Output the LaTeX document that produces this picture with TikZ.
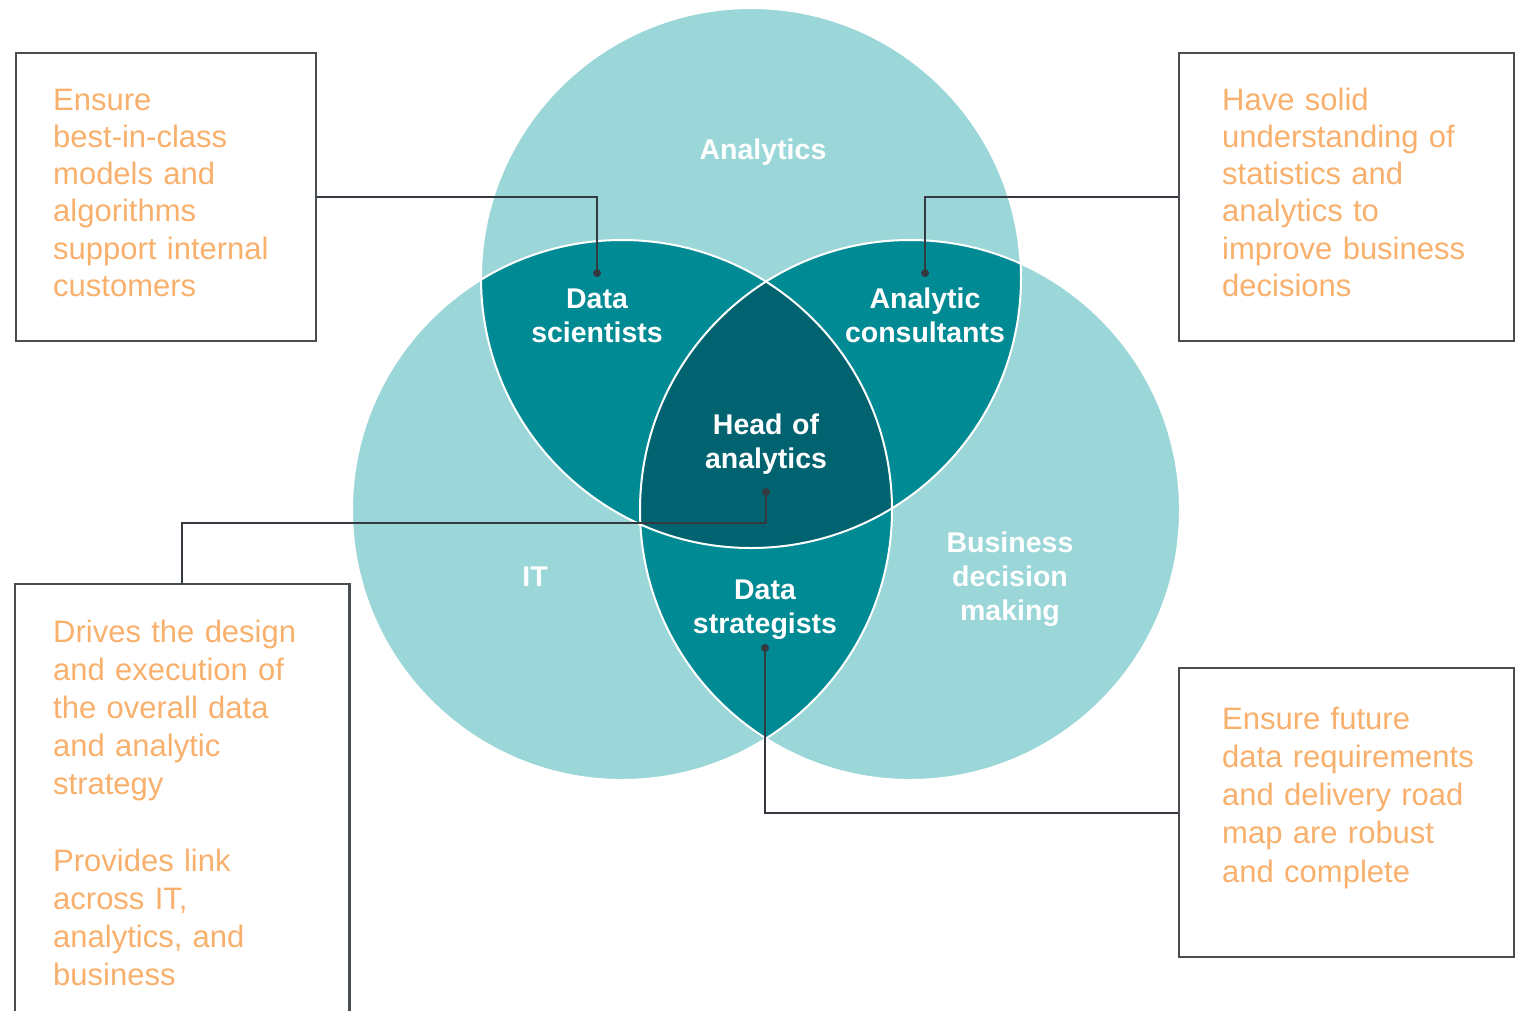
\documentclass[tikz,border=0pt]{standalone}
\usepackage{fontspec}
\setmainfont{Liberation Sans}
\usetikzlibrary{positioning}

\definecolor{paleteal}{RGB}{155,214,216}
\definecolor{midteal}{RGB}{0,138,148}
\definecolor{deepteal}{RGB}{0,99,111}
\definecolor{noteorange}{RGB}{248,176,108}
\definecolor{leadgray}{RGB}{52,58,64}
\definecolor{framegray}{RGB}{72,77,82}

\begin{document}
\begin{tikzpicture}[
x=1pt, y=-1pt,
notebox/.style={
  draw=framegray,
  line width=2.4pt,
  anchor=north west,
  inner sep=0pt
  },
note/.style={
  anchor=base west,
  inner sep=0pt,
  text width=290pt,
  align=left,
  text=noteorange,
  font=\fontsize{31}{#1}\selectfont
  },
role/.style={
  anchor=base,
  inner sep=0pt,
  text width=220pt,
  align=center,
  text=white,
  font=\bfseries\fontsize{28.5}{34}\selectfont
  },
link/.style={draw=leadgray, line width=2pt},
leaddot/.style={fill=leadgray}
]
\useasboundingbox (0,0) rectangle (1517,1010);

\coordinate (ana) at (751,278);
\coordinate (it) at (622,510);
\coordinate (biz) at (910,510);
\foreach \c in {ana,it,biz}
  \fill[paleteal] (\c) circle (270pt);
\begin{scope}
  \clip (ana) circle (270pt);
  \fill[midteal] (it) circle (270pt);
  \fill[midteal] (biz) circle (270pt);
\end{scope}
\begin{scope}
  \clip (it) circle (270pt);
  \fill[midteal] (biz) circle (270pt);
  \clip (biz) circle (270pt);
  \fill[deepteal] (ana) circle (270pt);
\end{scope}
\foreach \c in {ana,it,biz}
  \draw[white, line width=2pt] (\c) circle (270pt);

\node[role] (analytics) at (763,159) {Analytics};
\node[role] (scientists) at (597,308) {Data\\scientists};
\node[role] (consultants) at (925,308) {Analytic\\consultants};
\node[role] (head) at (766,434) {Head of\\analytics};
\node[role] (itlabel) at (535,586) {IT};
\node[role] (business) at (1010,552) {Business\\decision\\making};
\node[role] (strategists) at (765,599) {Data\\strategists};

\node[notebox, minimum width=300pt, minimum height=288pt] (models) at (15,52) {};
\node[notebox, minimum width=335pt, minimum height=288pt] (stats) at (1178,52) {};
\node[notebox, draw=none, minimum width=332pt, minimum height=426pt] (strategy) at (15,584) {};
\node[notebox, minimum width=335pt, minimum height=289pt] (roadmap) at (1178,667) {};
\draw[framegray, line width=2.4pt] (strategy.south west) -- (strategy.north west)
  -- (strategy.north east) -- (strategy.south east);

\node[note=37.3] (modelstext) at (53,110) {Ensure\\best-in-class\\models and\\algorithms\\support internal\\customers};
\node[note=37.3] (statstext) at (1222,110) {Have solid\\understanding of\\statistics and\\analytics to\\improve business\\decisions};
\node[note=38.2] (strategytext) at (53,642) {Drives the design\\and execution of\\the overall data\\and analytic\\strategy\\[38.2pt]Provides link\\across IT,\\analytics, and\\business};
\node[note=38.3] (roadmaptext) at (1222,729) {Ensure future\\data requirements\\and delivery road\\map are robust\\and complete};

\coordinate (scidot) at (597,273);
\coordinate (condot) at (925,273);
\coordinate (headbend) at (766,523);
\coordinate (headdot) at (766,492);
\coordinate (stradot) at (765,648);
\path[link]
  (models.east) -| (scidot)
  (stats.west) -| (condot)
  (strategy.north) |- (headbend) -- (headdot)
  (roadmap.west) -| (stradot);
\foreach \d in {scidot,condot,headdot,stradot}
  \fill[leaddot] (\d) circle (4pt);
\end{tikzpicture}
\end{document}
